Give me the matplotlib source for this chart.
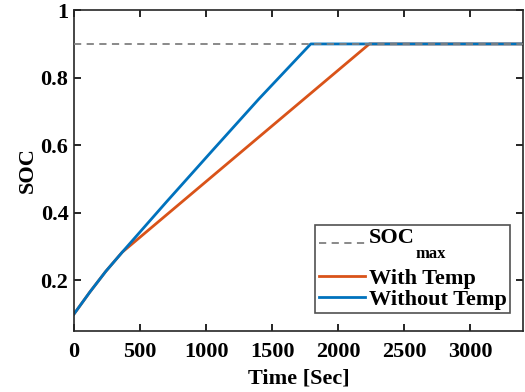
import matplotlib
matplotlib.use('Agg')
import matplotlib.pyplot as plt
import numpy as np

plt.rcParams['font.family'] = ['Liberation Serif', 'DejaVu Serif']
plt.rcParams['font.weight'] = 'bold'

# 数据
t_without = [0, 120, 240, 365, 700, 1050, 1400, 1793, 3400]
soc_without = [0.10, 0.165, 0.226, 0.283, 0.432, 0.585, 0.737, 0.90, 0.90]
t_with = [0, 120, 240, 365, 2237, 3400]
soc_with = [0.10, 0.165, 0.226, 0.283, 0.90, 0.90]
soc_max = 0.9

fig = plt.figure(figsize=(5.25, 3.92), dpi=100)
ax = fig.add_axes([0.141, 0.156, 0.855, 0.818])

h0 = ax.axhline(soc_max, color='#808080', ls=(0, (4, 3)), lw=1.3, zorder=4, label='SOC\n ')
h1, = ax.plot(t_with, soc_with, color='#D95319', lw=2, label='With Temp')
h2, = ax.plot(t_without, soc_without, color='#0072BD', lw=2, label='Without Temp')

ax.set_xlim(0, 3400)
ax.set_ylim(0.05, 1)
ax.set_xticks([0, 500, 1000, 1500, 2000, 2500, 3000])
ax.set_yticks([0.2, 0.4, 0.6, 0.8, 1])
ax.set_yticklabels(['0.2', '0.4', '0.6', '0.8', '1'])
ax.tick_params(direction='in', top=True, right=True, labelsize=16, width=1.2, length=5)
ax.tick_params(axis='x', pad=8)
ax.tick_params(axis='y', pad=4)
for s in ax.spines.values():
    s.set_linewidth(1.2)
    s.set_color('#262626')

ax.set_xlabel('Time [Sec]', fontsize=16, fontweight='bold', labelpad=5)
ax.set_ylabel('SOC', fontsize=16, fontweight='bold', labelpad=2)

leg = ax.legend(handles=[h0, h1, h2], loc='lower right', fontsize=16, frameon=True,
                fancybox=False, edgecolor='#262626', handlelength=2.1, handletextpad=0.15,
                borderpad=0.15, labelspacing=0.0, borderaxespad=0,
                bbox_to_anchor=(0.971, 0.056))
leg.get_frame().set_linewidth(1.2)
for t in leg.get_texts():
    t.set_linespacing(1.0)
# 虚线图例上移
lh = leg.legend_handles[0]
lh.set_ydata(np.asarray(lh.get_ydata()) + 4)

# 下标 "max"
fig.canvas.draw()
bb = leg.get_texts()[0].get_window_extent()
fig.text(bb.x1 + 1, bb.y0 + bb.height * 0.55, 'max', fontsize=12, fontweight='bold',
         ha='left', va='top', transform=None)

fig.savefig('out.png', dpi=100)
